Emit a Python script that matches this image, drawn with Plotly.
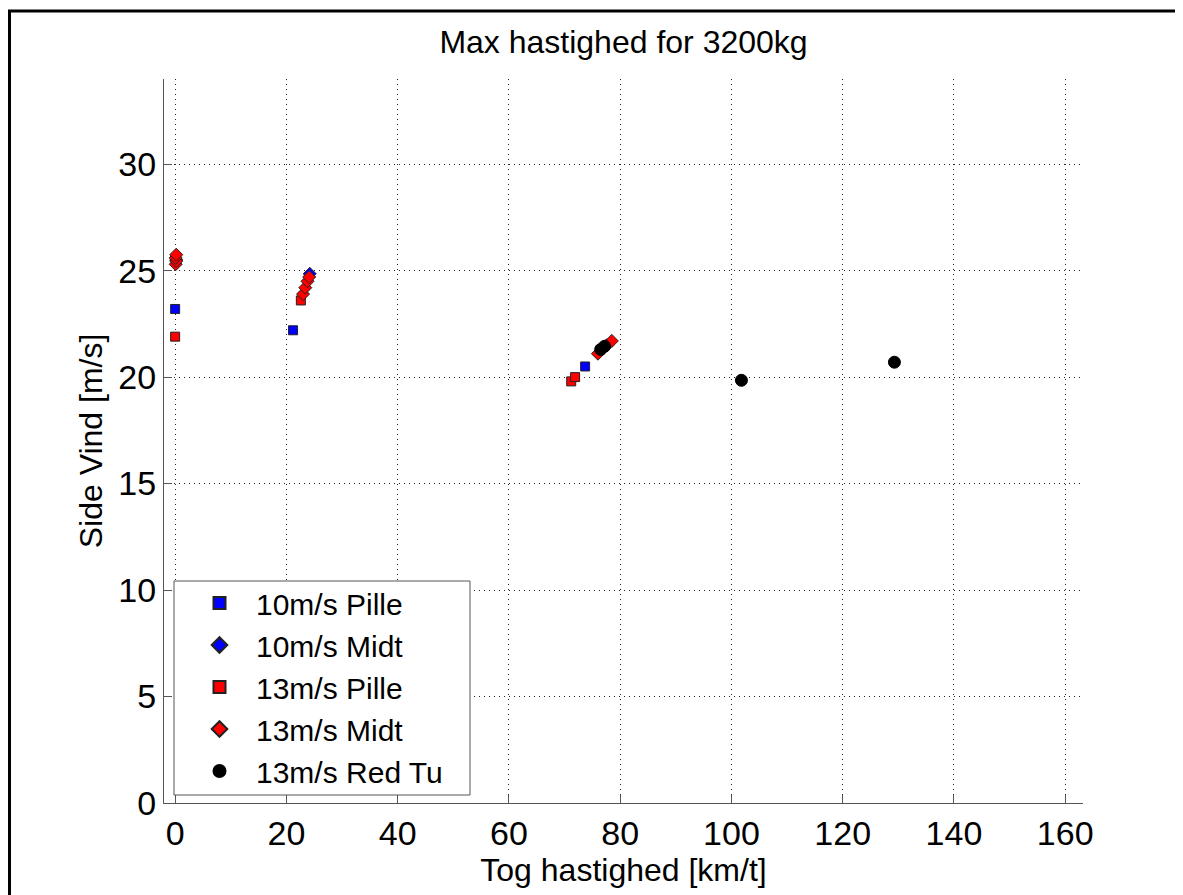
import plotly.graph_objects as go

# ---- data ----
p10_x = [0.0, 21.2, 73.7]
p10_y = [23.2, 22.2, 20.5]

m10_x = [0.2, 24.2, 77.6]
m10_y = [25.5, 24.85, 21.5]

p13_x = [0.0, 22.6, 71.2, 71.9]
p13_y = [21.9, 23.6, 19.8, 20.0]

m13_x = [0.1, 0.2, 0.1, 0.2, 23.0, 23.4, 23.8, 24.1, 76.0, 78.5]
m13_y = [25.3, 25.45, 25.6, 25.75, 23.9, 24.2, 24.5, 24.7, 21.1, 21.7]

r13_x = [76.5, 77.2, 101.8, 129.3]
r13_y = [21.3, 21.45, 19.85, 20.7]

names = ["10m/s Pille", "10m/s Midt", "13m/s Pille", "13m/s Midt", "13m/s Red Tu"]
x_ticks = [0, 20, 40, 60, 80, 100, 120, 140, 160]
y_ticks = [0, 5, 10, 15, 20, 25, 30]

FONT = "Arial, 'Liberation Sans', Helvetica, sans-serif"

# page has an 8px body margin; figure is sized so the plot lands where the reference has it
OFF = 8
W, H = 1183 - OFF, 895 - OFF
PL, PR, PT, PB = 164, 1083, 79, 803          # plot area in page pixels
PW, PH = PR - PL, PB - PT


def px(xp):
    return (xp - PL) / PW


def py(yp):
    return (PB - yp) / PH


fig = go.Figure()
fig.add_trace(go.Scatter(x=p10_x, y=p10_y, mode="markers", name=names[0],
                         marker=dict(symbol="square", size=9, color="#0000ff",
                                     line=dict(color="#222", width=1))))
fig.add_trace(go.Scatter(x=m10_x, y=m10_y, mode="markers", name=names[1],
                         marker=dict(symbol="diamond", size=10, color="#0000ff",
                                     line=dict(color="#222", width=1))))
fig.add_trace(go.Scatter(x=p13_x, y=p13_y, mode="markers", name=names[2],
                         marker=dict(symbol="square", size=9, color="#ff0000",
                                     line=dict(color="#222", width=1))))
fig.add_trace(go.Scatter(x=m13_x, y=m13_y, mode="markers", name=names[3],
                         marker=dict(symbol="diamond", size=10, color="#ff0000",
                                     line=dict(color="#222", width=1))))
fig.add_trace(go.Scatter(x=r13_x, y=r13_y, mode="markers", name=names[4],
                         marker=dict(symbol="circle", size=12, color="#000000",
                                     line=dict(color="#000", width=1))))

axis_common = dict(
    showline=True, linecolor="#555", linewidth=1, mirror=False,
    ticks="inside", ticklen=8, tickcolor="#555", tickwidth=1,
    showgrid=True, gridcolor="#222", griddash="1px,4px", gridwidth=1,
    zeroline=False, tickfont=dict(family=FONT, size=34, color="#000"),
)

fig.update_xaxes(range=[-2, 163.2], tickvals=x_ticks,
                 title=dict(text="Tog hastighed [km/t]", font=dict(family=FONT, size=32, color="#000"), standoff=0),
                 **axis_common)
fig.update_yaxes(range=[0, 34], tickvals=y_ticks,
                 title=dict(text="Side Vind [m/s]", font=dict(family=FONT, size=32, color="#000"), standoff=6),
                 **axis_common)

fig.update_layout(
    width=W, height=H, autosize=False,
    margin=dict(l=PL - OFF, r=W - (PR - OFF), t=PT - OFF, b=H - (PB - OFF)),
    paper_bgcolor="white", plot_bgcolor="white",
    title=dict(text="Max hastighed for 3200kg", x=((PL + PR) / 2 - OFF) / W, xanchor="center",
               y=1 - (42 - OFF) / H, yanchor="middle", font=dict(family=FONT, size=32, color="#000")),
    legend=dict(x=px(183), y=py(577), xanchor="left", yanchor="top",
                bgcolor="rgba(0,0,0,0)", borderwidth=0,
                font=dict(family=FONT, size=30, color="#000"), itemsizing="constant",
                itemwidth=63, tracegroupgap=0),
    showlegend=True,
    shapes=[
        dict(type="rect", xref="paper", yref="paper",
             x0=px(174), x1=px(470), y0=py(795), y1=py(581),
             line=dict(color="#555", width=1), fillcolor="white", layer="above"),
        dict(type="rect", xref="paper", yref="paper",
             x0=px(9.5), x1=px(1300), y0=py(1000), y1=py(11),
             line=dict(color="black", width=3), layer="above"),
    ],
)

fig.write_html("out.html")
